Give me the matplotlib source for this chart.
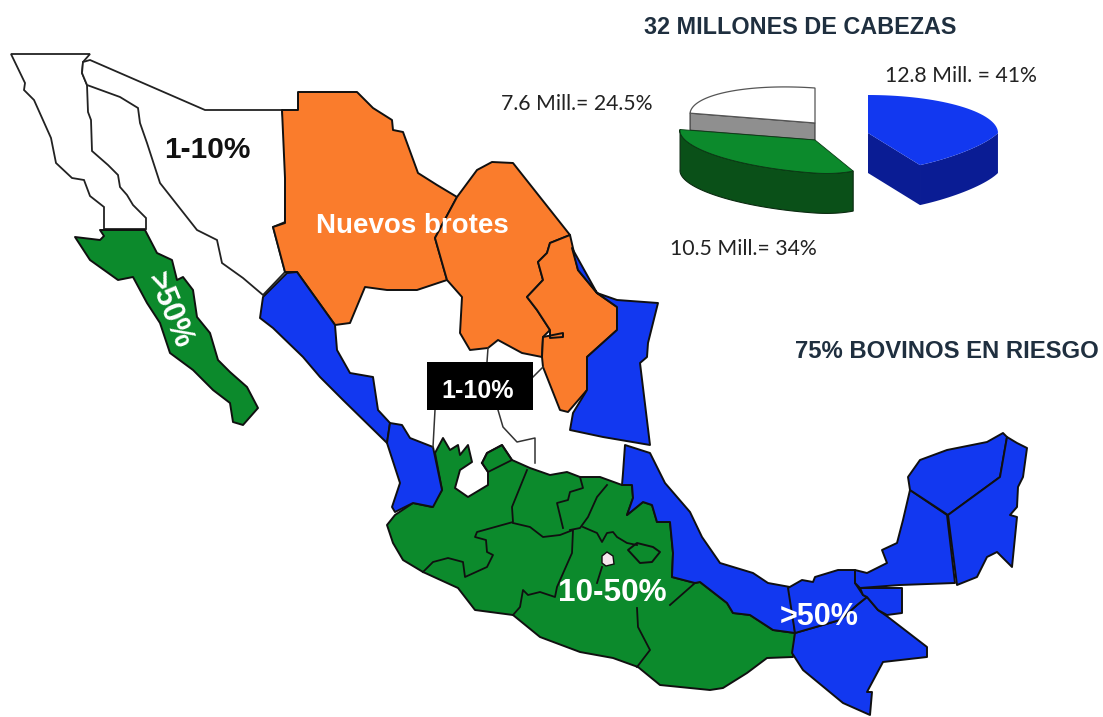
import numpy as np
import matplotlib
matplotlib.use("Agg")
import matplotlib.pyplot as plt
from matplotlib.patches import Polygon, Rectangle

# colores de la leyenda del mapa
VERDE = "#0c8a2c"
AZUL = "#1238f0"
NARANJA = "#fa7c2c"
BORDE = "#101010"

# estados (x, y en la escala del lienzo)
baja_norte = [(11, 54), (90, 54), (83, 62), (82, 73), (87, 85), (88, 112), (91, 120), (92, 151), (108, 165),
              (118, 175), (120, 187), (127, 195), (133, 205), (146, 218), (146, 229), (104, 229), (104, 207),
              (90, 196), (84, 180), (72, 178), (56, 163), (51, 138), (34, 100), (24, 90), (25, 83)]
sonora = [(90, 60), (205, 110), (282, 110), (286, 142), (286, 178), (285, 222), (273, 227), (285, 272),
          (263, 295), (243, 278), (222, 263), (217, 240), (197, 230), (160, 183), (147, 143), (140, 123),
          (138, 108), (120, 97), (87, 85), (82, 73), (83, 62)]
baja_sur = [(75, 237), (100, 240), (104, 236), (100, 230), (145, 230), (157, 253), (172, 260), (177, 280),
            (183, 277), (193, 290), (197, 317), (210, 333), (218, 360), (230, 372), (247, 387), (258, 408),
            (243, 425), (233, 422), (230, 403), (213, 390), (193, 370), (170, 353), (160, 323), (147, 303),
            (133, 277), (118, 280), (90, 260)]
chihuahua = [(298, 92), (357, 92), (373, 108), (392, 120), (393, 130), (403, 132), (418, 173), (437, 185),
             (457, 197), (435, 238), (447, 280), (417, 290), (387, 290), (365, 287), (350, 323), (335, 325),
             (297, 272), (285, 272), (273, 227), (285, 223), (285, 178), (282, 110), (298, 110)]
coahuila = [(457, 197), (477, 170), (492, 162), (513, 163), (570, 235), (550, 243), (547, 253), (538, 262),
            (543, 280), (527, 297), (537, 310), (550, 330), (543, 337), (542, 357), (522, 353), (498, 340),
            (488, 348), (470, 350), (460, 333), (462, 297), (447, 280), (435, 238)]
nuevo_leon = [(570, 235), (578, 270), (597, 293), (617, 307), (617, 330), (587, 357), (587, 390), (568, 412),
              (560, 410), (543, 367), (542, 357), (543, 337), (563, 333), (563, 337), (550, 338), (550, 330),
              (537, 310), (527, 297), (543, 280), (538, 262), (547, 253), (550, 243)]
tamaulipas = [(572, 248), (597, 293), (617, 300), (658, 303), (648, 343), (647, 357), (640, 363), (650, 445),
              (603, 437), (570, 430), (573, 413), (587, 390), (587, 357), (617, 330), (617, 307), (597, 293),
              (578, 270)]
sinaloa = [(263, 297), (287, 273), (297, 272), (335, 325), (337, 350), (350, 373), (373, 377), (378, 410),
           (390, 423), (387, 443), (343, 400), (320, 377), (303, 357), (273, 328), (260, 318)]
nayarit = [(390, 423), (402, 425), (410, 438), (433, 447), (442, 490), (433, 507), (413, 503), (395, 512),
           (392, 507), (400, 483), (387, 443)]
centro_sur = [(387, 525), (395, 515), (413, 503), (432, 507), (442, 490), (435, 453), (443, 438), (450, 450),
              (458, 445), (460, 455), (468, 445), (472, 462), (460, 470), (455, 488), (468, 497), (488, 485),
              (488, 472), (482, 463), (487, 453), (502, 445), (512, 460), (530, 468), (550, 475), (567, 472),
              (580, 477), (600, 477), (622, 485), (632, 485), (633, 498), (627, 515), (643, 502), (652, 505),
              (657, 522), (670, 522), (673, 553), (672, 577), (695, 583), (700, 582), (727, 603), (733, 613),
              (750, 615), (773, 630), (795, 633), (793, 657), (767, 658), (747, 673), (723, 688), (710, 690),
              (680, 687), (660, 685), (638, 667), (613, 658), (580, 652), (540, 637), (513, 615), (475, 610),
              (458, 588), (423, 572), (403, 560), (393, 543)]
veracruz = [(625, 445), (650, 453), (655, 463), (665, 483), (690, 512), (702, 537), (720, 563), (753, 573),
            (768, 583), (790, 587), (795, 633), (773, 630), (750, 615), (733, 613), (727, 603), (700, 582),
            (695, 583), (672, 577), (673, 553), (670, 522), (657, 522), (652, 505), (643, 502), (627, 515),
            (633, 498), (632, 485), (622, 485), (623, 473)]
chiapas = [(795, 633), (792, 653), (803, 670), (843, 703), (870, 715), (872, 692), (867, 692), (883, 662),
           (927, 657), (927, 647), (888, 617), (878, 610), (867, 597), (857, 605), (840, 620)]
tabasco = [(788, 588), (802, 580), (813, 582), (815, 577), (838, 570), (855, 570), (855, 583), (863, 595),
           (867, 597), (857, 605), (840, 620), (795, 633)]
peten = [(860, 588), (902, 588), (902, 613), (887, 615), (878, 610), (867, 597), (863, 595)]
campeche = [(855, 570), (867, 573), (887, 563), (882, 550), (897, 543), (903, 520), (910, 490), (947, 515),
            (955, 583), (900, 585), (860, 588), (855, 583)]
yucatan = [(910, 490), (908, 477), (920, 460), (947, 450), (987, 442), (1003, 433), (1007, 437), (1000, 477),
           (948, 515)]
quintana_roo = [(1007, 437), (1017, 443), (1027, 448), (1023, 477), (1018, 487), (1017, 507), (1010, 515),
                (1017, 517), (1012, 567), (1008, 563), (997, 552), (987, 557), (977, 577), (957, 585),
                (948, 515), (1000, 477)]
tlaxcala = [(628, 550), (637, 543), (653, 547), (660, 552), (652, 562), (640, 563)]
distrito = [(602, 556), (607, 552), (613, 556), (614, 564), (606, 566), (602, 563)]

# limites interiores
lineas_verdes = [
    [(423, 572), (433, 562), (448, 558), (463, 562), (465, 577), (487, 567), (493, 555), (487, 552), (486, 540),
     (475, 537), (477, 532), (513, 522), (512, 507), (527, 470)],
    [(513, 523), (530, 527), (543, 537), (560, 535), (573, 530), (572, 553), (557, 587), (555, 597), (540, 592),
     (528, 595), (523, 590), (520, 607), (513, 615)],
    [(580, 477), (583, 488), (570, 492), (568, 500), (557, 503), (563, 528)],
    [(607, 485), (597, 497), (588, 517), (580, 528), (570, 530)],
    [(583, 527), (597, 533), (602, 542), (607, 533), (613, 532), (617, 537), (627, 543), (637, 545)],
    [(602, 567), (597, 583)],
    [(637, 608), (638, 627), (650, 650), (637, 667)],
    [(670, 605), (695, 583)],
    [(482, 463), (487, 453), (502, 445), (512, 460), (488, 472), (482, 463)],
]
lineas_blancas = [
    [(488, 348), (487, 362)],
    [(435, 410), (433, 447)],
    [(498, 410), (503, 427), (517, 442), (535, 438), (535, 463)],
    [(533, 377), (543, 367)],
]

# existencias en riesgo (% de cabezas)
pie_valores = [41, 34, 24.5]
pie_colores = ["#1238f0", "#0c8a2c", "#ffffff"]
pie_paredes = ["#0a1c94", "#0a5018", "#8f8f8f"]


def slice_pts(cx, cy, rxl, rxr, ry, ini, fin, k=0.0, aprieta=0.0):
    ang = np.radians(np.linspace(ini, fin, 60))
    rx = np.where(np.cos(ang) > 0, rxr, rxl)
    dx = rx * np.cos(ang) * (1 - aprieta * np.clip(np.sin(ang), 0, 1))
    return cx + dx, cy + ry * np.sin(ang) + k * dx


def pintar_verdes(ax, estados, color, lw=1.4):
    for e in estados:
        ax.add_patch(Polygon(e, closed=True, facecolor=color, edgecolor=BORDE, linewidth=lw, joinstyle="round"))


fig = plt.figure(figsize=(11.03, 7.17), dpi=100)
ax = fig.add_axes([0, 0, 1, 1])
ax.set_xlim(0, 1103)
ax.set_ylim(717, 0)
ax.axis("off")

# mapa
for e in [baja_norte, sonora]:
    ax.add_patch(Polygon(e, closed=True, facecolor="white", edgecolor="#222222", linewidth=1.3))
pintar_verdes(ax, [baja_sur, centro_sur], VERDE)
pintar_verdes(ax, [chihuahua, coahuila, nuevo_leon], NARANJA)
pintar_verdes(ax, [sinaloa, nayarit, tamaulipas, veracruz, chiapas, tabasco, peten, campeche, yucatan, quintana_roo], AZUL)
pintar_verdes(ax, [tlaxcala], VERDE)
ax.add_patch(Polygon(distrito, closed=True, facecolor="#f6e8ee", edgecolor=BORDE, linewidth=1.0))
for l in lineas_verdes:
    xs, ys = zip(*l)
    ax.plot(xs, ys, color=BORDE, lw=1.3)
for l in lineas_blancas:
    xs, ys = zip(*l)
    ax.plot(xs, ys, color="#333333", lw=1.1)

ax.add_patch(Rectangle((427, 362), 106, 48, facecolor="black", edgecolor="none", zorder=3))

# pastel: el azul va separado y el blanco levantado, los angulos salen de los valores
grados = [v * 3.6 for v in pie_valores]
prof = 40

# blanco con cara gris
b_fin = 270
b_ini = b_fin - grados[2]
xb, yb = slice_pts(815, 123, 125, 125, 35, b_ini, b_fin, 0.07)
ax.add_patch(Polygon([(815, 123), (xb[0], yb[0]), (xb[0], yb[0] + 17), (815, 140)], facecolor=pie_paredes[2],
                     edgecolor="#333333", linewidth=0.8))
ax.add_patch(Polygon(np.r_[[(815, 123)], np.c_[xb, yb]], facecolor=pie_colores[2], edgecolor="#555555", linewidth=0.9))

# verde
g_fin = b_ini
g_ini = g_fin - grados[1]
xg, yg = slice_pts(815, 140, 135, 75, 33, g_ini, g_fin, 0.07)
pared = np.r_[np.c_[xg, yg], np.c_[xg, yg + prof][::-1]]
ax.add_patch(Polygon(pared, facecolor=pie_paredes[1], edgecolor="#0a2a10", linewidth=0.8))
ax.add_patch(Polygon(np.r_[[(815, 140)], np.c_[xg, yg]], facecolor=pie_colores[1], edgecolor="#0a3a14", linewidth=0.6))

# azul
a_ini = 270
a_fin = a_ini + grados[0]
xa, ya = slice_pts(868, 133, 130, 130, 38, a_ini, a_fin, aprieta=0.3)
idx = np.argmax(xa)
pared = np.r_[np.c_[xa[idx:], ya[idx:]], np.c_[xa[idx:], ya[idx:] + prof][::-1]]
ax.add_patch(Polygon(pared, facecolor=pie_paredes[0], edgecolor="none"))
ax.add_patch(Polygon([(868, 133), (xa[-1], ya[-1]), (xa[-1], ya[-1] + prof), (868, 133 + prof)],
                     facecolor=pie_paredes[0], edgecolor="none"))
ax.add_patch(Polygon(np.r_[[(868, 133)], np.c_[xa, ya]], facecolor=pie_colores[0], edgecolor="none"))

# textos
titulo = dict(family="Liberation Sans", fontweight="bold", color="#1f2f3f", ha="center", va="center")
ax.text(800, 27, "32 MILLONES DE CABEZAS", fontsize=16.8, **titulo)
ax.text(947, 352, "75% BOVINOS EN RIESGO", fontsize=17.2, **titulo)

nota = dict(family="Lato", color="#222222", ha="center", va="center", fontsize=15.3)
ax.text(961, 76, "12.8 Mill. = 41%", **nota)
ax.text(577, 104, "7.6 Mill.= 24.5%", **nota)
ax.text(743, 249, "10.5 Mill.= 34%", **nota)

rotulo = dict(family="Liberation Sans", fontweight="bold", ha="center", va="center", zorder=5)
ax.text(207, 150, "1-10%", color="#111111", fontsize=21.5, **rotulo)
ax.text(412, 226, "Nuevos brotes", color="white", fontsize=20, **rotulo)
ax.text(478, 391, "1-10%", color="white", fontsize=18, **rotulo)
ax.text(169, 311, ">50%", color="white", fontsize=22, rotation=-68, **rotulo)
ax.text(612, 593, "10-50%", color="white", fontsize=22.7, **rotulo)
ax.text(819, 617, ">50%", color="white", fontsize=22, **rotulo)

fig.savefig("out.png", dpi=100, facecolor="white")
